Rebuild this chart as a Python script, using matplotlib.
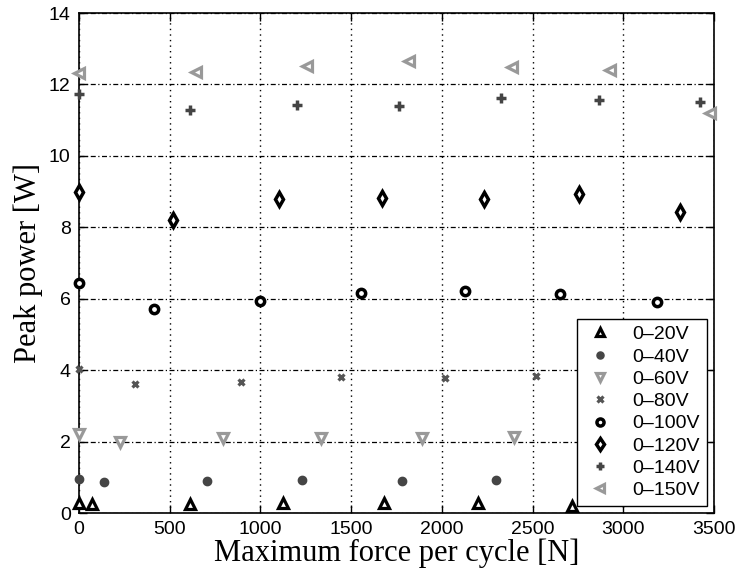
import matplotlib
matplotlib.use("Agg")
import matplotlib.pyplot as plt

labels = ["0\u201320V", "0\u201340V", "0\u201360V", "0\u201380V",
          "0\u2013100V", "0\u2013120V", "0\u2013140V", "0\u2013150V"]

x20 = [0, 70, 610, 1125, 1680, 2200, 2715]
y20 = [0.27, 0.25, 0.25, 0.27, 0.27, 0.27, 0.2]
x40 = [0, 139, 703, 1231, 1782, 2298]
y40 = [0.95, 0.87, 0.89, 0.92, 0.9, 0.92]
x60 = [0, 227, 793, 1332, 1892, 2398]
y60 = [2.2, 1.98, 2.09, 2.09, 2.09, 2.12]
x80 = [0, 308, 894, 1444, 2016, 2520]
y80 = [4.02, 3.6, 3.68, 3.82, 3.78, 3.85]
x100 = [0, 412, 1000, 1553, 2129, 2651, 3187]
y100 = [6.45, 5.7, 5.93, 6.17, 6.22, 6.14, 5.92]
x120 = [0, 518, 1104, 1669, 2231, 2754, 3313]
y120 = [9.0, 8.21, 8.79, 8.82, 8.79, 8.94, 8.44]
x140 = [0, 614, 1203, 1763, 2327, 2866, 3423]
y140 = [11.73, 11.28, 11.42, 11.4, 11.63, 11.55, 11.5]
x150 = [0, 644, 1256, 1818, 2387, 2927, 3478]
y150 = [12.33, 12.36, 12.51, 12.65, 12.49, 12.4, 11.21]

xs = [x20, x40, x60, x80, x100, x120, x140, x150]
ys = [y20, y40, y60, y80, y100, y120, y140, y150]

styles = [
    dict(marker="^", mfc="white", mec="black", ms=6.5, mew=2.3),
    dict(marker="o", mfc="#454545", mec="#454545", ms=6, mew=1),
    dict(marker="v", mfc="white", mec="#999999", ms=7.5, mew=2.3),
    dict(marker="x", mfc="#555555", mec="#555555", ms=4.5, mew=2.3),
    dict(marker="o", mfc="white", mec="black", ms=6, mew=2.5),
    dict(marker="d", mfc="white", mec="black", ms=7, mew=2.5),
    dict(marker="+", mfc="#444444", mec="#444444", ms=6.5, mew=2.5),
    dict(marker="<", mfc="white", mec="#999999", ms=7.5, mew=2.3),
]

fig = plt.figure(figsize=(7.38, 5.76), dpi=100)
ax = fig.add_axes([79/738, 1-513/576, (714-79)/738, 500/576])

for x, y, lab, st in zip(xs, ys, labels, styles):
    ax.plot(x, y, linestyle="none", label=lab, clip_on=False, zorder=3, **st)

ax.set_xlim(0, 3500)
ax.set_ylim(0, 14)
ax.set_xticks(range(0, 3501, 500))
ax.set_yticks(range(0, 15, 2))

ax.xaxis.grid(True, linestyle=(0, (1, 3)), color="black", linewidth=1.0)
ax.yaxis.grid(True, linestyle=(0, (4, 2, 1, 2)), color="black", linewidth=0.9)
ax.set_axisbelow(True)

ax.tick_params(direction="in", top=True, right=True, length=6, width=1,
               labelsize=14, pad=6)
for lbl in ax.get_xticklabels() + ax.get_yticklabels():
    lbl.set_family("Liberation Sans")
for s in ax.spines.values():
    s.set_linewidth(1.2)

ax.set_xlabel("Maximum force per cycle [N]", family="Liberation Serif", fontsize=22, labelpad=0)
ax.set_ylabel("Peak power [W]", family="Liberation Serif", fontsize=22, labelpad=4)

leg = ax.legend(loc="lower right", bbox_to_anchor=(0.989, 0.014), frameon=True,
                fancybox=False, edgecolor="black", framealpha=1,
                prop={"family": "Liberation Sans", "size": 14},
                labelspacing=0.24, handletextpad=0.9, borderpad=0.35,
                handlelength=1.6, borderaxespad=0, markerscale=0.85)
leg.get_frame().set_linewidth(1.0)
leg.set_zorder(5)

fig.savefig("out.png", dpi=100)
